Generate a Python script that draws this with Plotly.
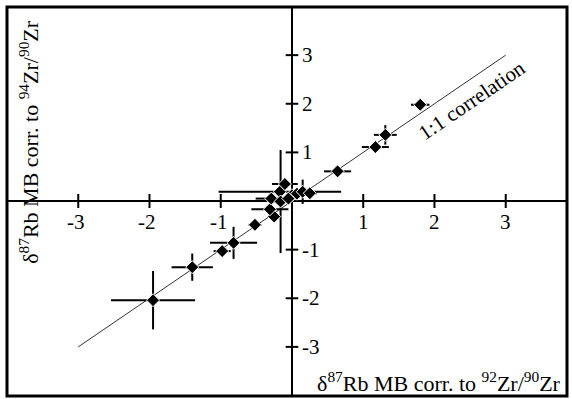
import plotly.graph_objects as go

# Data
x_vals = [-1.95, -1.40, -0.82, -0.98, -0.52, -0.25, -0.31, -0.29, -0.17, -0.16,
          -0.10, 0.00, -0.05, 0.07, 0.15, 0.25, 0.64, 1.17, 1.31, 1.80]
y_vals = [-2.04, -1.36, -0.86, -1.03, -0.49, -0.32, -0.17, 0.05, 0.19, -0.01,
          0.35, 0.12, 0.05, 0.15, 0.19, 0.16, 0.61, 1.11, 1.36, 1.98]
x_err = [0.59, 0.29, 0.33, 0.12, 0.09, 0.08, 0.26, 0.22, 0.86, 0.12,
         0.18, 0.08, 0.05, 0.06, 0.08, 0.10, 0.19, 0.19, 0.16, 0.13]
y_err = [0.60, 0.28, 0.33, 0.10, 0.09, 0.10, 0.06, 0.06, 0.06, 1.06,
         0.10, 0.08, 0.05, 0.06, 0.25, 0.06, 0.10, 0.10, 0.20, 0.06]

line_x = [-3, 3]
line_y = [-3, 3]

x_ticks = [-3, -2, -1, 1, 2, 3]
y_ticks = [-3, -2, -1, 1, 2, 3]

x_title = "δ<sup>87</sup>Rb MB corr. to <sup>92</sup>Zr/<sup>90</sup>Zr"
y_title = "δ<sup>87</sup>Rb MB corr. to <sup>94</sup>Zr/<sup>90</sup>Zr"
line_label = "1:1 correlation"

FONT = "Liberation Serif"
FS = 21

fig = go.Figure()

# 1:1 line
fig.add_trace(go.Scatter(x=line_x, y=line_y, mode="lines",
                         line=dict(color="#333333", width=1), hoverinfo="skip"))

# tick marks crossing the axes
fig.add_trace(go.Scatter(x=x_ticks, y=[0] * len(x_ticks), mode="markers",
                         marker=dict(symbol="line-ns", size=10,
                                     line=dict(color="black", width=2)),
                         hoverinfo="skip"))
fig.add_trace(go.Scatter(x=[0] * len(y_ticks), y=y_ticks, mode="markers",
                         marker=dict(symbol="line-ew", size=9,
                                     line=dict(color="black", width=2)),
                         hoverinfo="skip"))

# data with error bars
fig.add_trace(go.Scatter(
    x=x_vals, y=y_vals, mode="markers",
    marker=dict(symbol="diamond", size=10, color="black",
                line=dict(color="white", width=1)),
    error_x=dict(type="data", array=x_err, color="black", thickness=2, width=0),
    error_y=dict(type="data", array=y_err, color="black", thickness=2, width=0),
))

annotations = []
for t in x_ticks:
    annotations.append(dict(x=t, y=0, xref="x", yref="y", text=str(t),
                            showarrow=False, yshift=-21, xshift=-2 if t < 0 else 0,
                            font=dict(family=FONT, size=FS, color="black")))
for t in y_ticks:
    annotations.append(dict(x=0, y=t, xref="x", yref="y", text=str(t),
                            showarrow=False, xanchor="left", xshift=8,
                            font=dict(family=FONT, size=FS, color="black")))

annotations.append(dict(x=0.771, y=0.035, xref="paper", yref="paper", text=x_title,
                        xanchor="center", yanchor="middle",
                        showarrow=False, font=dict(family=FONT, size=22, color="black")))
annotations.append(dict(x=0.039, y=0.653, xref="paper", yref="paper", text=y_title,
                        xanchor="center", yanchor="middle",
                        textangle=-90, showarrow=False,
                        font=dict(family=FONT, size=22, color="black")))
annotations.append(dict(x=2.53, y=2.08, xref="x", yref="y", text=line_label,
                        textangle=-34.3, showarrow=False,
                        font=dict(family=FONT, size=21, color="black")))

fig.update_layout(
    width=572, height=399,
    margin=dict(l=7, r=5, t=7, b=3),
    paper_bgcolor="white", plot_bgcolor="white",
    showlegend=False,
    annotations=annotations,
    xaxis=dict(range=[-4.0, 3.86], showgrid=False, showticklabels=False, ticks="",
               zeroline=True, zerolinecolor="black", zerolinewidth=2, showline=False),
    yaxis=dict(range=[-4.01, 3.99], showgrid=False, showticklabels=False, ticks="",
               zeroline=True, zerolinecolor="black", zerolinewidth=2, showline=False),
    shapes=[dict(type="rect", xref="paper", yref="paper", x0=0, y0=0, x1=1, y1=1,
                 line=dict(color="black", width=3))],
)

fig.write_html("out.html")
